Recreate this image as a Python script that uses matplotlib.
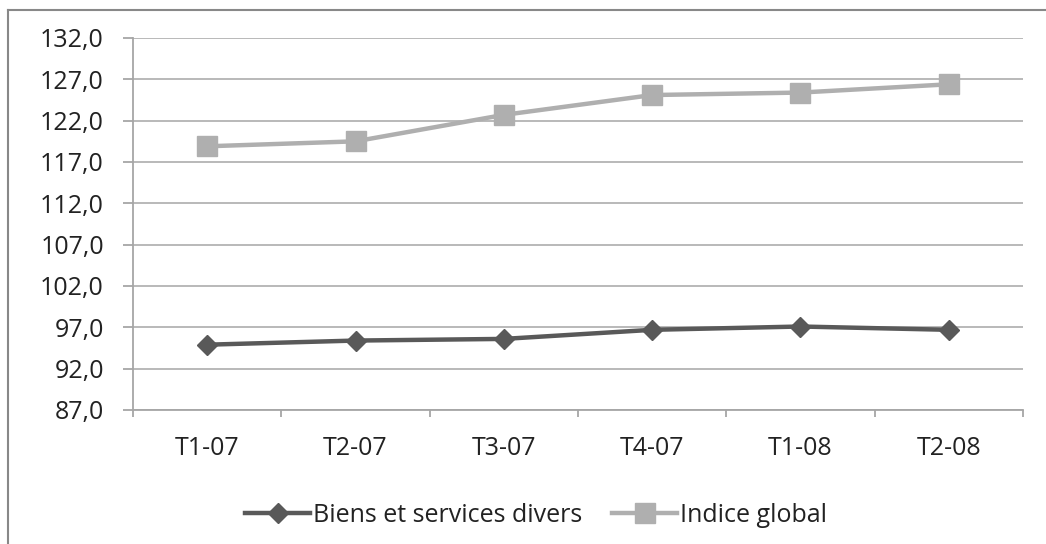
import matplotlib
matplotlib.use("Agg")
import matplotlib.pyplot as plt
from matplotlib.lines import Line2D
from matplotlib.ticker import FixedLocator, FuncFormatter

categories = ["T1-07", "T2-07", "T3-07", "T4-07", "T1-08", "T2-08"]
biens_services = [94.9, 95.4, 95.6, 96.7, 97.1, 96.7]
indice_global = [118.9, 119.5, 122.7, 125.1, 125.4, 126.4]
y_ticks = [87, 92, 97, 102, 107, 112, 117, 122, 127, 132]

plt.rcParams['font.family'] = ['Open Sans', 'DejaVu Sans']

fig = plt.figure(figsize=(10.46, 5.44), dpi=100)
ax = fig.add_axes([133/1046, 1-410/544, (1023-133)/1046, (410-38)/544])

x = list(range(len(categories)))
ax.plot(x, biens_services, color='#595959', lw=3.2, marker='D', ms=10.5,
        label='Biens et services divers', zorder=3)
ax.plot(x, indice_global, color='#AFAFAF', lw=3.2, marker='s', ms=15,
        label='Indice global', zorder=3)

ax.set_xlim(-0.5, len(categories) - 0.5)
ax.set_ylim(87, 132)
ax.yaxis.set_major_locator(FixedLocator(y_ticks))
ax.yaxis.set_major_formatter(FuncFormatter(lambda v, p: f"{v:.1f}".replace('.', ',')))
ax.set_xticks(x)
ax.set_xticklabels(categories)
ax.set_xticks([i + 0.5 for i in range(-1, len(categories))], minor=True)

ax.grid(axis='y', color='#B3B3B3', lw=1.3, zorder=0)
for s in ['top', 'right']:
    ax.spines[s].set_visible(False)
for s in ['left', 'bottom']:
    ax.spines[s].set_color('#A6A6A6')
    ax.spines[s].set_linewidth(1.3)

ax.tick_params(axis='y', which='major', length=7, color='#A6A6A6', width=1.3,
               labelsize=18, labelcolor='#222222', pad=14)
ax.tick_params(axis='x', which='major', length=0, labelsize=18,
               labelcolor='#222222', pad=19)
ax.tick_params(axis='x', which='minor', length=5, color='#A6A6A6', width=1.3)

leg = fig.legend(loc='center', bbox_to_anchor=(536/1046, 1-515/544), ncol=2,
                 frameon=False, fontsize=18, handlelength=2.6, columnspacing=1.2,
                 handletextpad=0.1, labelcolor='#222222')

# outer border (top and left visible)
fig.add_artist(Line2D([8/1046, 8/1046], [0, 1-10/544], transform=fig.transFigure,
                      color='#888888', lw=1.5))
fig.add_artist(Line2D([8/1046, 1], [1-10/544, 1-10/544], transform=fig.transFigure,
                      color='#888888', lw=1.5))

fig.savefig("out.png", dpi=100)
